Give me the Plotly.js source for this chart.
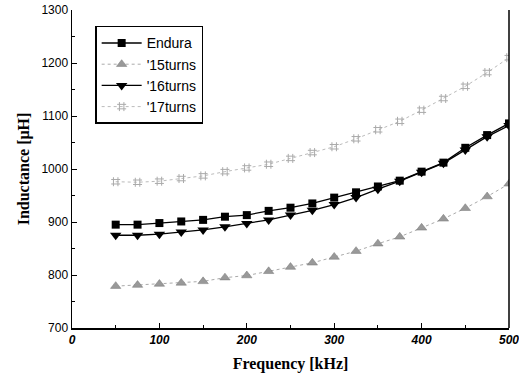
<!DOCTYPE html>
<html><head><meta charset="utf-8">
<script src="https://cdn.plot.ly/plotly-3.0.1.min.js"></script>
<style>body{margin:0;padding:0;background:#fff}#chart{width:519px;height:384px}</style>
</head><body><div id="chart"></div>
<script>
const freq = [50,75,100,125,150,175,200,225,250,275,300,325,350,375,400,425,450,475,500];
const endura = [895,895,898,901,904,910,913,921,927,935,946,956,967,978,995,1012,1040,1064,1086];
const turns15 = [779,781,783,785,788,795,799,807,815,823,834,845,859,872,889,906,926,948,972];
const turns16 = [875,875,877,881,885,891,897,904,913,922,933,946,962,977,994,1011,1036,1061,1082];
const turns17 = [976,975,977,982,987,995,1002,1009,1020,1031,1042,1057,1074,1090,1111,1133,1156,1182,1210];
const names = ['Endura',"'15turns","'16turns","'17turns"];

const traces = [
  {x:freq,y:endura,name:names[0],mode:'lines+markers',line:{color:'#000',width:1.3},
   marker:{symbol:'square',size:8,color:'#000'}},
  {x:freq,y:turns15,name:names[1],mode:'lines+markers',line:{color:'#aaa',width:1,dash:'dot'},
   marker:{symbol:'triangle-up',size:9,color:'#999',line:{color:'#777',width:0.5}}},
  {x:freq,y:turns16,name:names[2],mode:'lines+markers',line:{color:'#000',width:1.3},
   marker:{symbol:'triangle-down',size:10,color:'#000'}},
  {x:freq,y:turns17,name:names[3],mode:'lines+markers',line:{color:'#bbb',width:1,dash:'dot'},
   marker:{symbol:'hash-open',size:9,color:'#aaa',line:{color:'#aaa',width:1}}}
];

const layout = {
  width:519,height:384,
  margin:{l:72,r:10,t:10,b:56},
  paper_bgcolor:'#fff',plot_bgcolor:'#fff',
  showlegend:true,
  legend:{x:0.053,y:0.95,xanchor:'left',yanchor:'top',bgcolor:'#fff',bordercolor:'#000',borderwidth:1.5,
    font:{family:'Liberation Sans, Arial, sans-serif',size:14,color:'#000'},tracegroupgap:0,itemwidth:40},
  xaxis:{range:[0,500],tickvals:[0,100,200,300,400,500],ticks:'inside',ticklen:5,tickcolor:'#000',
    ticklabeloverflow:'allow',automargin:false,
    minor:{tickvals:[50,150,250,350,450],ticks:'inside',ticklen:3,tickcolor:'#000'},
    showline:true,linecolor:'#000',linewidth:1.5,showgrid:false,zeroline:false,
    tickfont:{family:'Liberation Sans, Arial, sans-serif',size:12,color:'#000',style:'italic',weight:'bold'},
    title:{text:'Frequency [kHz]',standoff:12,font:{family:'Liberation Serif, Times New Roman, serif',size:16,color:'#000',weight:'bold'}}},
  yaxis:{range:[700,1300],tickvals:[700,800,900,1000,1100,1200,1300],ticks:'inside',ticklen:5,tickcolor:'#000',
    automargin:false,
    minor:{tickvals:[750,850,950,1050,1150,1250],ticks:'inside',ticklen:3,tickcolor:'#000'},
    showline:true,linecolor:'#000',linewidth:1.5,showgrid:false,zeroline:false,
    tickfont:{family:'Liberation Sans, Arial, sans-serif',size:12,color:'#000'},
    title:{text:'Inductance [μH]',standoff:8,font:{family:'Liberation Serif, Times New Roman, serif',size:16,color:'#000',weight:'bold'}}},
  shapes:[{type:'line',xref:'paper',yref:'paper',x0:1,x1:1,y0:0,y1:1,line:{color:'#000',width:1.5}}]
};
Plotly.newPlot('chart',traces,layout,{displayModeBar:false,staticPlot:true});
</script></body></html>
